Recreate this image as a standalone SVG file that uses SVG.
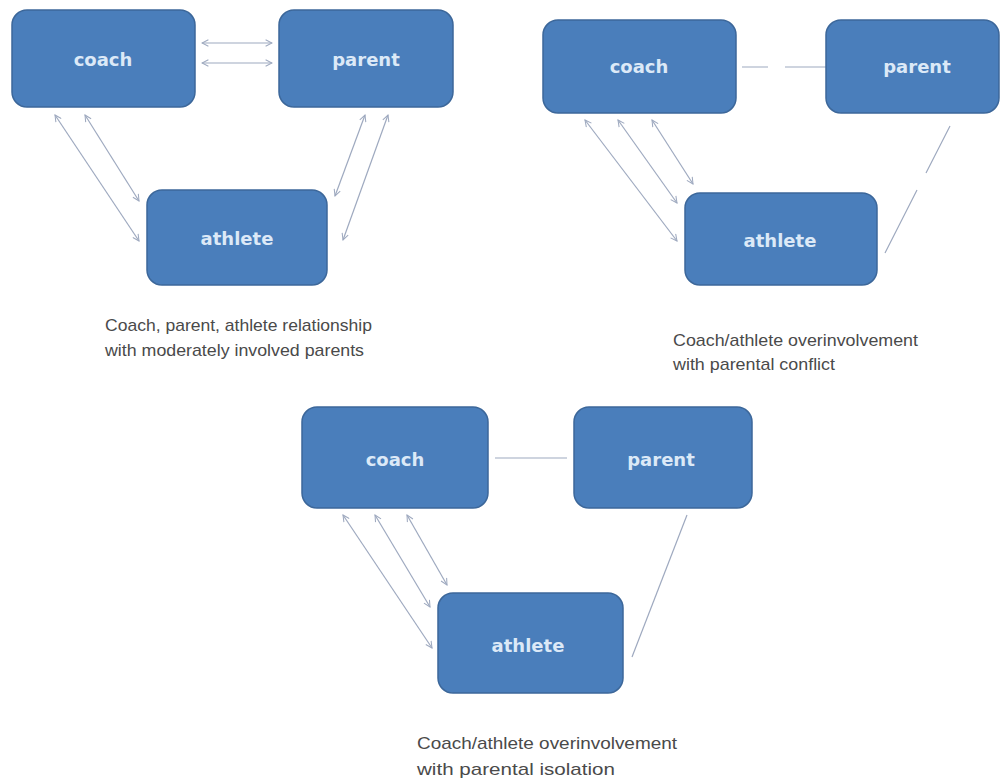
<svg xmlns="http://www.w3.org/2000/svg" width="1001" height="782" viewBox="0 0 1001 782">
<style>
.node{fill:#4a7ebb;stroke:#3c679a;stroke-width:1.5}
.lbl{font-family:"DejaVu Sans",sans-serif;font-weight:bold;font-size:18px;fill:#dce9f7;text-anchor:middle}
.cap{font-family:"Liberation Sans",Arial,sans-serif;font-size:17px;fill:#4a4a4a}
.c{stroke:#9ea9bf;stroke-width:1.2;fill:none}
.d{marker-start:url(#ah);marker-end:url(#ah)}
</style>
<defs>
<marker id="ah" viewBox="0 0 10 10" refX="9" refY="5" markerWidth="8" markerHeight="8" markerUnits="userSpaceOnUse" orient="auto-start-reverse">
<path d="M1 1 L9 5 L1 9" fill="none" stroke="#9ea9bf" stroke-width="1.3"/>
</marker>
</defs>
<rect width="1001" height="782" fill="#ffffff"/>
<g id="connectors">
<line class="c d" x1="202" y1="43" x2="272" y2="43"/>
<line class="c d" x1="202" y1="63" x2="272" y2="63"/>
<line class="c d" x1="55" y1="115" x2="139" y2="241"/>
<line class="c d" x1="85" y1="115" x2="139" y2="201"/>
<line class="c d" x1="365" y1="115" x2="335" y2="196"/>
<line class="c d" x1="388" y1="115" x2="343" y2="240"/>
<path class="c" d="M742 67 H768 M785 67 H826"/>
<line class="c d" x1="585" y1="120" x2="677" y2="241"/>
<line class="c d" x1="618" y1="120" x2="677" y2="203"/>
<line class="c d" x1="652" y1="120" x2="693" y2="184"/>
<path class="c" d="M950 126 L926 173 M917 190 L885 253"/>
<line class="c" x1="495" y1="458" x2="567" y2="458"/>
<line class="c d" x1="343" y1="515" x2="432" y2="648"/>
<line class="c d" x1="375" y1="515" x2="430" y2="607"/>
<line class="c d" x1="407" y1="515" x2="447" y2="585"/>
<line class="c" x1="687" y1="515" x2="632" y2="657"/>
</g>
<g id="tl-coach"><rect class="node" x="12" y="10" width="183" height="97" rx="15"/><text class="lbl" x="103" y="66">coach</text></g>
<g id="tl-parent"><rect class="node" x="279" y="10" width="174" height="97" rx="15"/><text class="lbl" x="366" y="66">parent</text></g>
<g id="tl-athlete"><rect class="node" x="147" y="190" width="180" height="95" rx="15"/><text class="lbl" x="237" y="245">athlete</text></g>
<g id="tr-coach"><rect class="node" x="543" y="20" width="193" height="93" rx="15"/><text class="lbl" x="639" y="73">coach</text></g>
<g id="tr-parent"><rect class="node" x="826" y="20" width="173" height="93" rx="15"/><text class="lbl" x="917" y="73">parent</text></g>
<g id="tr-athlete"><rect class="node" x="685" y="193" width="192" height="92" rx="15"/><text class="lbl" x="780" y="247">athlete</text></g>
<g id="b-coach"><rect class="node" x="302" y="407" width="186" height="101" rx="15"/><text class="lbl" x="395" y="466">coach</text></g>
<g id="b-parent"><rect class="node" x="574" y="407" width="178" height="101" rx="15"/><text class="lbl" x="661" y="466">parent</text></g>
<g id="b-athlete"><rect class="node" x="438" y="593" width="185" height="100" rx="15"/><text class="lbl" x="528" y="652">athlete</text></g>
<g id="captions">
<text class="cap" x="105" y="331" textLength="267" lengthAdjust="spacingAndGlyphs">Coach, parent, athlete relationship</text>
<text class="cap" x="105" y="356" textLength="259" lengthAdjust="spacingAndGlyphs">with moderately involved parents</text>
<text class="cap" x="673" y="346" textLength="245" lengthAdjust="spacingAndGlyphs">Coach/athlete overinvolvement</text>
<text class="cap" x="673" y="370" textLength="162" lengthAdjust="spacingAndGlyphs">with parental conflict</text>
<text class="cap" x="417" y="749" textLength="260" lengthAdjust="spacingAndGlyphs">Coach/athlete overinvolvement</text>
<text class="cap" x="417" y="775" textLength="198" lengthAdjust="spacingAndGlyphs">with parental isolation</text>
</g>
</svg>
